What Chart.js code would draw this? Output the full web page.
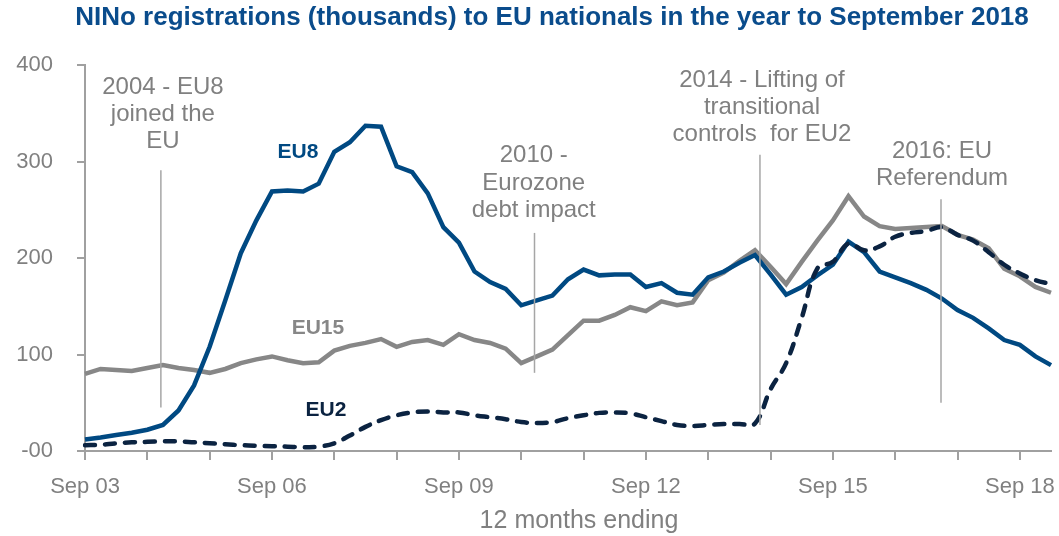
<!DOCTYPE html>
<html>
<head>
<meta charset="utf-8">
<script src="https://cdn.jsdelivr.net/npm/chart.js@4.4.1/dist/chart.umd.min.js"></script>
<style>
  html, body { margin: 0; padding: 0; background: #fff; }
</style>
</head>
<body>
<canvas id="ninoChart" width="1059" height="536"></canvas>
<script>
// quarterly, 12 months ending
const quarters = [
  "Sep 03", "Dec 03",
  "Mar 04", "Jun 04", "Sep 04", "Dec 04",
  "Mar 05", "Jun 05", "Sep 05", "Dec 05",
  "Mar 06", "Jun 06", "Sep 06", "Dec 06",
  "Mar 07", "Jun 07", "Sep 07", "Dec 07",
  "Mar 08", "Jun 08", "Sep 08", "Dec 08",
  "Mar 09", "Jun 09", "Sep 09", "Dec 09",
  "Mar 10", "Jun 10", "Sep 10", "Dec 10",
  "Mar 11", "Jun 11", "Sep 11", "Dec 11",
  "Mar 12", "Jun 12", "Sep 12", "Dec 12",
  "Mar 13", "Jun 13", "Sep 13", "Dec 13",
  "Mar 14", "Jun 14", "Sep 14", "Dec 14",
  "Mar 15", "Jun 15", "Sep 15", "Dec 15",
  "Mar 16", "Jun 16", "Sep 16", "Dec 16",
  "Mar 17", "Jun 17", "Sep 17", "Dec 17",
  "Mar 18", "Jun 18", "Sep 18", "Dec 18",
  "Mar 19",
];

const eu8 = [
  12, 14, 16.5, 19, 22, 27, 42, 68, 108, 156,
  205, 239, 269, 270, 269, 277, 310, 320, 337, 336,
  295, 289, 267, 232, 216, 186, 175, 168, 151, 156,
  161, 178, 188, 182, 183, 183, 170, 174, 164, 162,
  180, 186, 195, 203, 183, 162, 170, 182, 193, 217,
  206, 186, 180, 174, 167, 158, 146, 138, 127, 115,
  110, 98, 89,
];

const eu15 = [
  80, 85, 84, 83, 86, 89, 86, 84, 81, 85,
  91, 95, 98, 94, 91, 92, 104, 109, 112, 116,
  108, 113, 115, 110, 121, 115, 112, 106, 91, 98,
  105, 120, 135, 135, 141, 149, 145, 155, 151, 154,
  177, 185, 197, 208, 191, 173, 196, 218, 239, 264,
  243, 233, 230, 231, 232, 233, 224, 219, 210, 189,
  181, 170, 164,
];

const eu2 = [
  6, 6.5, 8, 9, 9.5, 10, 10, 9, 8, 7,
  6, 5.5, 5, 4.5, 4, 4.5, 8, 16, 25, 32,
  37, 40, 41, 40, 40, 37, 35, 33, 30, 29,
  30, 34, 37, 39.5, 40, 39, 35, 31, 27, 26,
  27, 28, 28, 28.5, 64, 91, 138, 189, 196, 215,
  208, 212, 222, 226, 228, 232, 224, 218, 206, 193,
  184, 177, 173,
];

const yTickLabels = ["-00", "100", "200", "300", "400"];

const chartTitle = "NINo registrations (thousands) to EU nationals in the year to September 2018";
const xTitle = "12 months ending";

// events marked on the chart: text lines, and the vertical marker (index, from value, to value)
const events = [
  { lines: ["2004 - EU8", "joined the", "EU"], textAt: 5.0, textY: [377, 349, 321], lineAt: 4.87, top: 291, bottom: 45 },
  { lines: ["2010 -", "Eurozone", "debt impact"], textAt: 28.8, textY: [306, 277, 249], lineAt: 28.85, top: 226, bottom: 81 },
  { lines: ["2014 - Lifting of", "transitional", "controls  for EU2"], textAt: 43.45, textY: [384, 356, 328], lineAt: 43.32, top: 307, bottom: 27 },
  { lines: ["2016: EU", "Referendum"], textAt: 55.0, textY: [310, 282], lineAt: 54.94, top: 261, bottom: 50 },
];

const BLUE = "#004982";
const NAVY = "#0B2341";
const GREY_LINE = "#878787";
const GREY_TEXT = "#808080";
const AXIS = "#A0A0A0";
const FONT = "'Liberation Sans', Arial, sans-serif";

const seriesLabels = [
  { text: "EU8", at: 13.67, y: 310, color: BLUE },
  { text: "EU15", at: 14.95, y: 127.5, color: GREY_LINE },
  { text: "EU2", at: 15.47, y: 42.5, color: NAVY },
];

const overlay = {
  id: "overlay",
  afterDatasetsDraw(chart) {
    const { ctx } = chart;
    const xs = chart.scales.x;
    const ys = chart.scales.y;
    ctx.save();

    // event markers
    ctx.strokeStyle = "#A6A6A6";
    ctx.lineWidth = 1.5;
    events.forEach((ev) => {
      const px = xs.getPixelForValue(ev.lineAt);
      ctx.beginPath();
      ctx.moveTo(px, ys.getPixelForValue(ev.top));
      ctx.lineTo(px, ys.getPixelForValue(ev.bottom));
      ctx.stroke();
    });

    ctx.textAlign = "center";
    ctx.textBaseline = "middle";
    ctx.fillStyle = GREY_TEXT;
    ctx.font = "24px " + FONT;
    events.forEach((ev) => {
      const px = xs.getPixelForValue(ev.textAt);
      ev.lines.forEach((t, i) => {
        ctx.fillText(t, px, ys.getPixelForValue(ev.textY[i]));
      });
    });

    // series names
    ctx.font = "bold 21px " + FONT;
    seriesLabels.forEach((s) => {
      ctx.fillStyle = s.color;
      ctx.fillText(s.text, xs.getPixelForValue(s.at), ys.getPixelForValue(s.y));
    });

    // axis title
    ctx.fillStyle = GREY_TEXT;
    ctx.font = "25px " + FONT;
    ctx.fillText(xTitle, 579, 521);

    // title
    ctx.fillStyle = "#0A4C8C";
    ctx.font = "bold 26px " + FONT;
    ctx.fillText(chartTitle, 552, 18);
    ctx.restore();
  },
};

const ctx = document.getElementById("ninoChart").getContext("2d");
new Chart(ctx, {
  type: "line",
  data: {
    labels: quarters,
    datasets: [
      {
        label: "EU8",
        data: eu8,
        borderColor: BLUE,
        borderWidth: 4.5,
        pointRadius: 0,
        tension: 0,
        order: 1,
      },
      {
        label: "EU15",
        data: eu15,
        borderColor: GREY_LINE,
        borderWidth: 4.5,
        pointRadius: 0,
        tension: 0,
        order: 2,
      },
      {
        label: "EU2",
        data: eu2,
        borderColor: NAVY,
        borderWidth: 4.5,
        borderDash: [10, 10],
        borderCapStyle: "round",
        pointRadius: 0,
        tension: 0.4,
        order: 0,
      },
    ],
  },
  options: {
    responsive: false,
    animation: false,
    layout: { padding: { top: 65, right: 8, bottom: 0, left: 0 } },
    plugins: {
      legend: { display: false },
      tooltip: { enabled: false },
      title: { display: false },
    },
    scales: {
      x: {
        afterFit: (s) => {
          s.height = 85;
          s.paddingLeft = 0;
          s.paddingRight = 0;
        },
        border: { color: AXIS, width: 2 },
        grid: {
          drawOnChartArea: false,
          tickLength: 9,
          lineWidth: 2,
          color: (c) => (c.index % 4 === 0 ? AXIS : "rgba(0,0,0,0)"),
        },
        ticks: {
          autoSkip: false,
          maxRotation: 0,
          minRotation: 0,
          padding: 14,
          color: GREY_TEXT,
          font: { family: FONT, size: 22 },
          callback: (v, i) => (i % 12 === 0 ? quarters[i] : ""),
        },
      },
      y: {
        min: 0,
        max: 400,
        afterFit: (s) => { s.width = 85; },
        border: { color: AXIS, width: 2 },
        grid: { drawOnChartArea: false, tickLength: 8, lineWidth: 2, color: AXIS },
        ticks: {
          stepSize: 100,
          padding: 24,
          color: GREY_TEXT,
          font: { family: FONT, size: 22 },
          callback: (v) => yTickLabels[v / 100],
        },
      },
    },
  },
  plugins: [overlay],
});
</script>
</body>
</html>
